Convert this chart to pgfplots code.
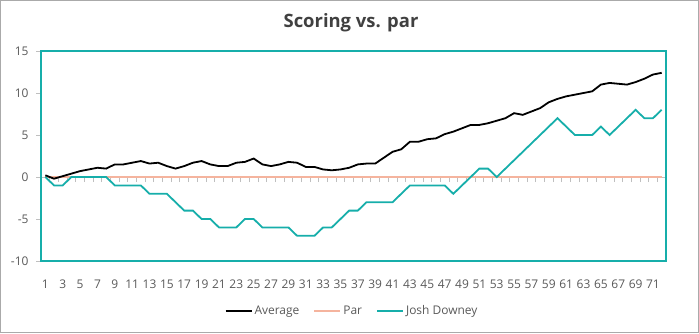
\documentclass[border=0pt]{standalone}
\usepackage{pgfplots}
\pgfplotsset{compat=1.18}
\usepackage{pgfplotstable}
\usepackage{fontspec}
\setmainfont{Open Sans}
\definecolor{teal1}{RGB}{22,174,170}
\definecolor{parc}{RGB}{245,180,158}
\definecolor{txt}{RGB}{89,89,89}
\definecolor{ttl}{RGB}{64,64,64}
\definecolor{tickg}{RGB}{191,191,191}
\definecolor{frame}{RGB}{170,170,170}

\pgfplotstableread{
x avg par josh
1 0.2 0 0
2 -0.2 0 -1
3 0.1 0 -1
4 0.4 0 0
5 0.7 0 0
6 0.9 0 0
7 1.1 0 0
8 1.0 0 0
9 1.5 0 -1
10 1.5 0 -1
11 1.7 0 -1
12 1.9 0 -1
13 1.6 0 -2
14 1.7 0 -2
15 1.3 0 -2
16 1.0 0 -3
17 1.3 0 -4
18 1.7 0 -4
19 1.9 0 -5
20 1.5 0 -5
21 1.3 0 -6
22 1.3 0 -6
23 1.7 0 -6
24 1.8 0 -5
25 2.2 0 -5
26 1.5 0 -6
27 1.3 0 -6
28 1.5 0 -6
29 1.8 0 -6
30 1.7 0 -7
31 1.2 0 -7
32 1.2 0 -7
33 0.9 0 -6
34 0.8 0 -6
35 0.9 0 -5
36 1.1 0 -4
37 1.5 0 -4
38 1.6 0 -3
39 1.6 0 -3
40 2.3 0 -3
41 3.0 0 -3
42 3.3 0 -2
43 4.2 0 -1
44 4.2 0 -1
45 4.5 0 -1
46 4.6 0 -1
47 5.1 0 -1
48 5.4 0 -2
49 5.8 0 -1
50 6.2 0 0
51 6.2 0 1
52 6.4 0 1
53 6.7 0 0
54 7.0 0 1
55 7.6 0 2
56 7.4 0 3
57 7.8 0 4
58 8.2 0 5
59 8.9 0 6
60 9.3 0 7
61 9.6 0 6
62 9.8 0 5
63 10.0 0 5
64 10.2 0 5
65 11.0 0 6
66 11.2 0 5
67 11.1 0 6
68 11.0 0 7
69 11.3 0 8
70 11.7 0 7
71 12.2 0 7
72 12.4 0 8
}\scoretable

\begin{document}
\begin{tikzpicture}[x=1bp,y=1bp]
\draw[frame, line width=1.2bp] (0.6,0.6) rectangle (698.4,332.4);
\node[font=\fontsize{18.5}{20}\selectfont\bfseries, text=ttl] at (351,310) {Scoring vs. par};
% category tick marks on the zero line
\begin{axis}[
  at={(41bp,72bp)}, anchor=south west,
  scale only axis, width=625bp, height=210bp,
  xmin=0.5, xmax=72.5, ymin=-10, ymax=15,
  axis x line=middle, axis y line=none,
  axis line style={tickg, -},
  xtick={0.5,1.5,...,72.5}, xticklabels={},
  tick align=outside, major tick length=5bp,
  x tick style={tickg, line width=0.8bp},
]
\addplot[draw=none] coordinates {(1,0)};
\end{axis}
\begin{axis}[
  at={(41bp,72bp)}, anchor=south west,
  scale only axis, width=625bp, height=210bp,
  xmin=0.5, xmax=72.5, ymin=-10, ymax=15,
  axis line style={teal1, line width=1.5bp},
  xtick={1,3,...,71},
  ytick={-10,-5,...,15},
  ytick pos=left, xtick pos=bottom,
  x tick style={draw=none},
  y tick style={tickg, line width=0.8bp},
  tick align=outside, major tick length=5bp,
  /pgf/number format/assume math mode=true,
  tick label style={font=\fontsize{12}{14}\selectfont, text=txt},
  xticklabel style={anchor=center, yshift=-18bp},
  yticklabel style={anchor=east, xshift=-4bp},
  legend columns=3,
  legend style={at={(0.4976,-0.238)}, anchor=center, draw=none, fill=none,
    font=\fontsize{12}{14}\selectfont, text=txt,
    /tikz/every even column/.append style={column sep=12bp}},
  legend image code/.code={\draw[#1] (0bp,0bp) -- (26bp,0bp);},
]
\addlegendimage{black, line width=2bp}
\addlegendentry{Average}
\addlegendimage{parc, line width=2bp}
\addlegendentry{Par}
\addlegendimage{teal1, line width=2bp}
\addlegendentry{Josh Downey}
\addplot[parc, line width=2bp, forget plot] table[x=x, y=par] {\scoretable};
\addplot[black, line width=1.8bp, forget plot] table[x=x, y=avg] {\scoretable};
\addplot[teal1, line width=1.8bp, forget plot] table[x=x, y=josh] {\scoretable};
\end{axis}
\pgfresetboundingbox
\useasboundingbox (0,0) rectangle (699,333);
\end{tikzpicture}
\end{document}
